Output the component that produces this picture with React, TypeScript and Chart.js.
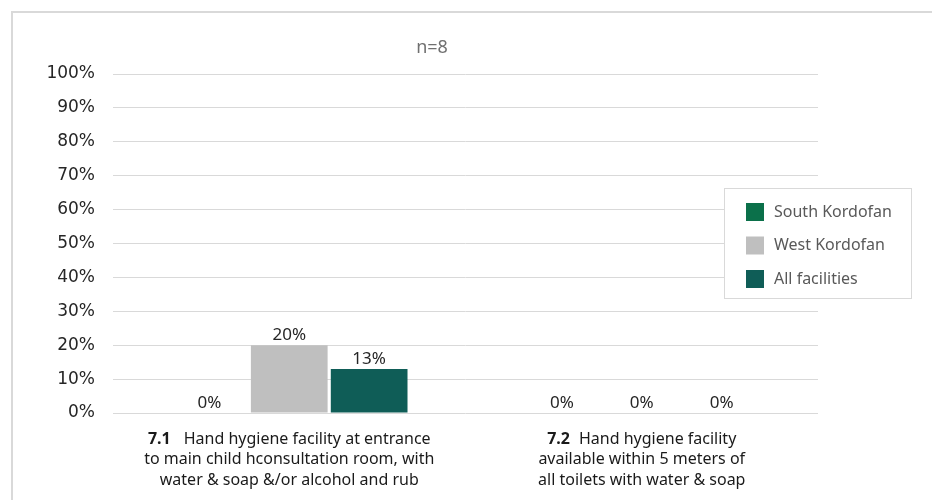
import React, { useEffect, useRef } from "react";
import { Chart, registerables } from "chart.js";

Chart.register(...registerables);

// Categories: bold item number + wrapped description lines
const categoryIds = ["7.1", "7.2"];
const categoryLines = [
  ["Hand hygiene facility at entrance", "to main child hconsultation room, with", "water & soap &/or alcohol and rub"],
  ["Hand hygiene facility", "available within 5 meters of", "all toilets with water & soap"],
];
const idGaps = [13, 9];

// Series values (%)
const seriesNames = ["South Kordofan", "West Kordofan", "All facilities"];
const southKordofan = [0, 0];
const westKordofan = [20, 0];
const allFacilities = [13, 0];
const seriesColors = ["#0B704A", "#BFBFBF", "#0F5D57"];

const yTicks = [0, 10, 20, 30, 40, 50, 60, 70, 80, 90, 100];
const subtitle = "n=8";

const FONT = "'Noto Sans', sans-serif";
const TICK_FONT = "'DejaVu Sans', sans-serif";

const overlayPlugin = {
  id: "overlay",
  afterDatasetsDraw(chart: any) {
    const { ctx, chartArea } = chart;
    ctx.save();

    // value labels above bars
    ctx.font = `17px ${FONT}`;
    ctx.fillStyle = "#262626";
    ctx.textAlign = "center";
    ctx.textBaseline = "alphabetic";
    chart.data.datasets.forEach((ds: any, di: number) => {
      const meta = chart.getDatasetMeta(di);
      meta.data.forEach((bar: any, i: number) => {
        ctx.fillText(`${ds.data[i]}%`, bar.x, bar.y - 5);
      });
    });

    // subtitle
    ctx.font = `18px ${FONT}`;
    ctx.fillStyle = "#707070";
    ctx.textBaseline = "middle";
    ctx.fillText(subtitle, chartArea.left + 319, chartArea.top - 26);

    // category labels with bold item numbers
    const xScale = chart.scales.x;
    const size = 16;
    categoryIds.forEach((id, ci) => {
      const cx = xScale.getPixelForTick(ci);
      categoryLines[ci].forEach((line, li) => {
        const y = chartArea.bottom + 26 + li * 20.5;
        ctx.textBaseline = "middle";
        ctx.fillStyle = "#1a1a1a";
        if (li === 0) {
          ctx.font = `bold ${size}px ${FONT}`;
          const wId = ctx.measureText(id).width;
          ctx.font = `${size}px ${FONT}`;
          const wTxt = ctx.measureText(line).width;
          const total = wId + idGaps[ci] + wTxt;
          const x0 = cx - total / 2;
          ctx.textAlign = "left";
          ctx.font = `bold ${size}px ${FONT}`;
          ctx.fillText(id, x0, y);
          ctx.font = `${size}px ${FONT}`;
          ctx.fillText(line, x0 + wId + idGaps[ci], y);
        } else {
          ctx.textAlign = "center";
          ctx.font = `${size}px ${FONT}`;
          ctx.fillText(line, cx, y);
        }
      });
    });

    // legend box
    const lx = chart.width - 210;
    const ly = chartArea.top + 114;
    const lw = 187;
    const lh = 110;
    ctx.fillStyle = "#ffffff";
    ctx.fillRect(lx, ly, lw, lh);
    ctx.strokeStyle = "#d9d9d9";
    ctx.lineWidth = 1;
    ctx.strokeRect(lx + 0.5, ly + 0.5, lw, lh);
    chart.data.datasets.forEach((ds: any, di: number) => {
      const cy = ly + 24 + di * 33.5;
      ctx.fillStyle = ds.backgroundColor;
      ctx.fillRect(lx + 22, cy - 9, 18, 18);
      ctx.fillStyle = "#595959";
      ctx.font = `16px ${FONT}`;
      ctx.textAlign = "left";
      ctx.textBaseline = "middle";
      ctx.fillText(ds.label, lx + 50, cy);
    });

    ctx.restore();
  },
};

export default function App() {
  const canvasRef = useRef<HTMLCanvasElement | null>(null);

  useEffect(() => {
    if (!canvasRef.current) return;
    const values = [southKordofan, westKordofan, allFacilities];
    const chart = new Chart(canvasRef.current, {
      type: "bar",
      data: {
        labels: categoryIds,
        datasets: seriesNames.map((name, i) => ({
          label: name,
          data: values[i],
          backgroundColor: seriesColors[i],
          borderWidth: 0,
          categoryPercentage: 0.68,
          barPercentage: 0.96,
        })),
      },
      options: {
        animation: false,
        responsive: false,
        maintainAspectRatio: false,
        layout: { padding: { top: 61, right: 116, left: 0, bottom: 0 } },
        plugins: {
          legend: { display: false },
          title: { display: false },
          tooltip: { enabled: false },
        },
        scales: {
          x: {
            grid: { display: false },
            border: { display: false },
            ticks: { display: false },
            afterFit: (scale: any) => {
              scale.height = 92;
            },
          },
          y: {
            min: 0,
            max: 100,
            afterBuildTicks: (scale: any) => {
              scale.ticks = yTicks.map((v) => ({ value: v }));
            },
            afterFit: (scale: any) => {
              scale.width = 100;
            },
            grid: { color: "#d9d9d9", lineWidth: 1, drawTicks: false },
            border: { display: false },
            ticks: {
              padding: 18,
              color: "#262626",
              font: { family: TICK_FONT, size: 17 },
              callback: (v: any) => `${v}%`,
            },
          },
        },
      },
      plugins: [overlayPlugin],
    });
    return () => chart.destroy();
  }, []);

  return (
    <div style={{ paddingLeft: 3, paddingTop: 3 }}>
      <div
        style={{
          width: 921,
          height: 492,
          border: "2px solid #d9d9d9",
          borderBottom: "none",
          background: "#fff",
        }}
      >
        <canvas ref={canvasRef} width={921} height={492} style={{ display: "block" }} />
      </div>
    </div>
  );
}
